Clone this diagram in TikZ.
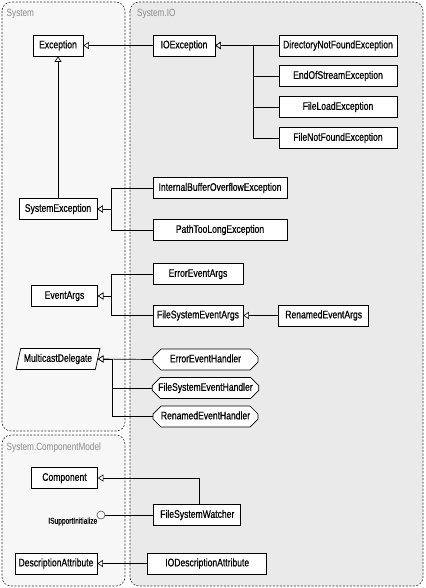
\documentclass[tikz,border=0pt]{standalone}
\usepackage{fontspec}
\setmainfont{Liberation Sans}[FakeStretch=0.78]
\newfontfamily\boxfont{Liberation Sans}[FakeStretch=0.78,FakeBold=0.6]
\usetikzlibrary{arrows.meta,positioning,shapes.geometric,shapes.misc}
\definecolor{iofill}{HTML}{EAEAEA}
\definecolor{sysfill}{HTML}{F7F7F7}
\definecolor{pkgline}{HTML}{333333}
\definecolor{pkgtext}{HTML}{8A8A8A}

\begin{document}
\begin{tikzpicture}[x=1pt,y=-1pt,
  pkg/.style={draw=pkgline,dash pattern=on 2pt off 1.5pt,line width=0.6pt,
              rounded corners=9pt},
  pkglbl/.style={anchor=west,inner sep=0pt,text=pkgtext,
                 font=\fontsize{10.5}{12}\selectfont},
  box/.style={rectangle,draw=black,fill=white,line width=0.7pt,
              minimum height=21pt,inner xsep=2pt,inner ysep=1pt,
              text height=8pt,text depth=2.3pt,
              font=\boxfont\fontsize{11}{13}\selectfont},
  deleg/.style={box,chamfered rectangle,chamfered rectangle xsep=4pt,
                chamfered rectangle ysep=4pt},
  inh/.style={-{Triangle[open,fill=white,length=5.5pt,width=7pt,line width=0.6pt]},
              line width=0.7pt},
  lnk/.style={line width=0.7pt}
]
  \useasboundingbox (0,0) rectangle (425,588);

  % ---- Namespace frames --------------------------------------
  \draw[pkg,fill=iofill]  (130,2)   rectangle (423,586);
  \draw[pkg,fill=sysfill] (2,2)     rectangle (125,431);
  \draw[pkg,fill=sysfill] (2,435)   rectangle (125,586);

  \node[pkglbl] (syslbl) at (6.5,14)  {System};
  \node[pkglbl] (iolbl)  at (137,14)  {System.IO};
  \node[pkglbl] (cmlbl)  at (6.5,448) {System.ComponentModel};

  % ---- Exceptions --------------------------------------------
  \node[box,minimum width=50]  (exc)   at (58,45.5)  {Exception};
  \node[box,minimum width=62]  (ioex)  at (184,45.5) {IOException};
  \node[box,minimum width=118] (dirnf) at (338,45.5) {DirectoryNotFoundException};
  \node[box,minimum width=118] (eos)   at (338,76)   {EndOfStreamException};
  \node[box,minimum width=118] (fload) at (338,107)  {FileLoadException};
  \node[box,minimum width=118] (fnf)   at (338,138)  {FileNotFoundException};

  \node[box,minimum width=78]  (sysex) at (58,209)   {SystemException};
  \node[box,minimum width=134] (ibo)   at (220,188)  {InternalBufferOverflowException};
  \node[box,minimum width=134] (ptl)   at (220,230)  {PathTooLongException};

  % ---- Event args --------------------------------------------
  \node[box,minimum width=66]  (evargs)  at (64.5,296)   {EventArgs};
  \node[box,minimum width=90]  (errargs) at (198,274)    {ErrorEventArgs};
  \node[box,minimum width=90]  (fsargs)  at (198,315.5)  {FileSystemEventArgs};
  \node[box,minimum width=90]  (renargs) at (323.7,315.5){RenamedEventArgs};

  % ---- Delegates ---------------------------------------------
  \node[box,trapezium,trapezium left angle=70,trapezium right angle=110,
        trapezium stretches=true,minimum width=84]
    (mdel) at (58,359) {MulticastDelegate};
  \node[deleg,minimum width=105] (errh) at (205.5,359.5) {ErrorEventHandler};
  \node[deleg,minimum width=105] (fsh)  at (205.5,388)   {FileSystemEventHandler};
  \node[deleg,minimum width=105] (renh) at (205.5,416.5) {RenamedEventHandler};

  % ---- Component model ---------------------------------------
  \node[box,minimum width=66]  (comp)   at (64.5,478)   {Component};
  \node[box,minimum width=87]  (fsw)    at (197.3,515)  {FileSystemWatcher};
  \node[circle,draw=black!70,fill=white,line width=0.6pt,minimum size=8pt,
        inner sep=0pt] (isi) at (101,515) {};
  \node[anchor=east,inner sep=0pt,font=\boxfont\fontsize{8.5}{10}\selectfont]
    (isilbl) at (97.5,521.5) {ISupportInitialize};
  \node[box,minimum width=82]  (desc)   at (56,563.5)   {DescriptionAttribute};
  \node[box,minimum width=119] (iodesc) at (207.2,563.5){IODescriptionAttribute};

  % ---- Inheritance arrows ------------------------------------
  \draw[inh] (ioex.west) -- (exc.east);
  \draw[inh] (sysex.north) -- (exc.south);
  \draw[inh] (dirnf.west) -- (ioex.east);
  \draw[inh] (eos.west) -- ++(-25,0) |- (ioex.east);
  \draw[inh] (fload.west) -- ++(-25,0) |- (ioex.east);
  \draw[inh] (fnf.west) -- ++(-25,0) |- (ioex.east);

  \draw[inh] (ibo.west) -- ++(-41,0) |- (sysex.east);
  \draw[inh] (ptl.west) -- ++(-41,0) |- (sysex.east);

  \draw[inh] (errargs.west) -- ++(-41,0) |- (evargs.east);
  \draw[inh] (fsargs.west) -- ++(-41,0) |- (evargs.east);
  \draw[inh] (renargs.west) -- (fsargs.east);

  \draw[inh] (errh.west) -- (mdel.east);
  \draw[inh] (fsh.west) -- ++(-40,0) |- (mdel.east);
  \draw[inh] (renh.west) -- ++(-40,0) |- (mdel.east);

  \draw[inh] ([xshift=2pt]fsw.north) |- (comp.east);
  \draw[lnk] (fsw.west) -- (isi.east);
  \draw[inh] (iodesc.west) -- (desc.east);

\end{tikzpicture}
\end{document}
